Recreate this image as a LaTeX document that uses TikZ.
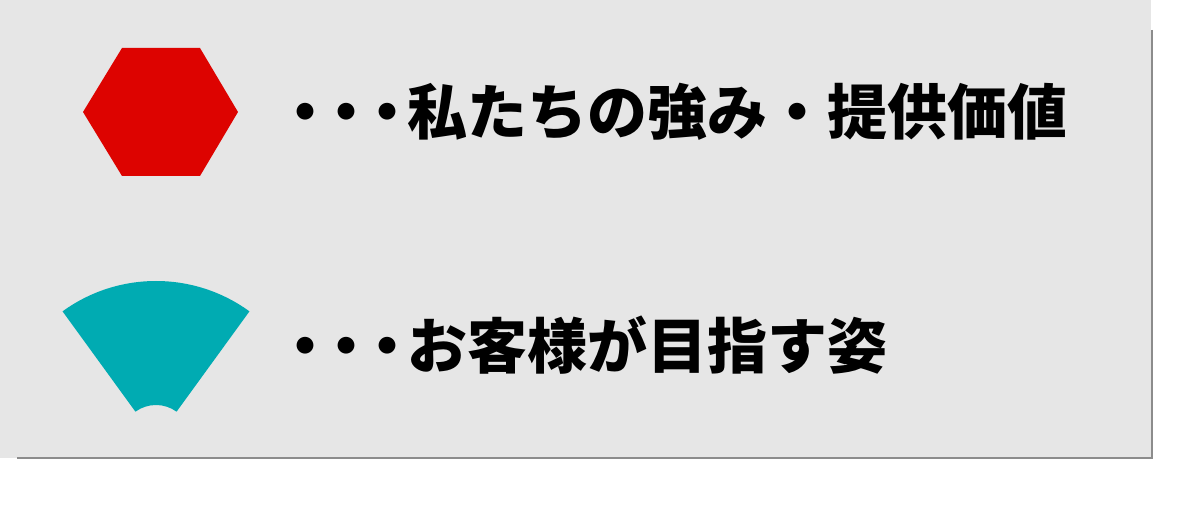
\documentclass[tikz,border=0pt]{standalone}
\usepackage{fontspec}
\newfontfamily\jp{Noto Sans CJK JP}
\definecolor{bggray}{RGB}{230,230,230}
\definecolor{shadowgray}{RGB}{140,140,140}
\definecolor{hexred}{RGB}{221,3,0}
\definecolor{fanteal}{RGB}{0,171,178}
\begin{document}
\begin{tikzpicture}[x=1pt,y=1pt,
  label text/.style={anchor=base west,inner sep=0pt,outer sep=0pt,
    font=\jp\bfseries\fontsize{60}{60}\selectfont,text=black}]
\useasboundingbox (0,0) rectangle (1200,506);
% background panel with shadow edges
\fill[bggray] (0,48) rectangle (1151,506);
\draw[shadowgray,line width=1.2pt] (1152,476) -- (1152,48) -- (17,48);
% red hexagon
\fill[hexred] (83,394) -- (122,458) -- (200,458) -- (238,394) -- (200,330) -- (122,330) -- cycle;
% teal fan
\coordinate (c) at (156,66);
\fill[fanteal] ([shift={(54:159pt)}]c) arc[start angle=54,end angle=126,radius=159pt]
  -- ([shift={(126:35pt)}]c) arc[start angle=126,end angle=54,radius=35pt] -- cycle;
% texts
\node[label text] (t1) at (275,371) {・\kern-19pt・\kern-19pt・\kern-10pt私たちの強み・提供価値};
\node[label text] (t2) at (275,137) {・\kern-19pt・\kern-19pt・\kern-10ptお客様が目指す姿};
\end{tikzpicture}
\end{document}
